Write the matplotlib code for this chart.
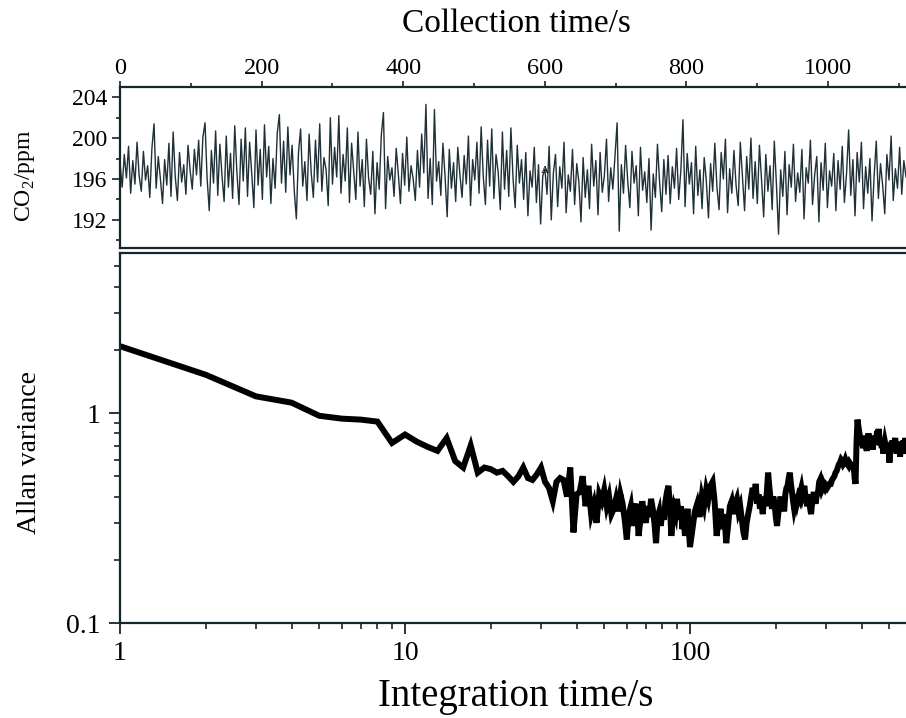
import numpy as np
import matplotlib.pyplot as plt
from matplotlib.ticker import MultipleLocator, FixedLocator, LogLocator, NullFormatter

plt.rcParams['font.family'] = ['Liberation Serif', 'DejaVu Serif']
plt.rcParams['mathtext.fontset'] = 'custom'
plt.rcParams['mathtext.rm'] = 'Liberation Serif'

# CO2 record, one reading every 3 s
sample_interval = 3
co2_ppm = [
    197.5, 195.2, 198.4, 196.1, 199.2, 194.6, 197.8, 195.5, 199.6, 196.3, 194.8, 198.7, 195.9, 197.3, 194.2, 199.0, 201.4, 195.1, 198.2, 196.0,
    193.6, 197.9, 195.4, 199.5, 194.3, 200.6, 196.2, 193.9, 198.6, 195.7, 197.4, 194.5, 199.3, 196.8, 195.0, 198.9, 196.4, 199.8, 195.3, 200.1,
    201.5, 196.0, 192.9, 198.8, 195.6, 200.7, 194.4, 199.4, 196.3, 193.8, 200.2, 195.2, 198.5, 194.1, 201.2, 196.7, 193.5, 199.9, 195.8, 201.0,
    194.3, 199.6, 196.5, 193.2, 200.8, 195.4, 198.9, 194.0, 201.3, 196.2, 199.2, 193.6, 198.0, 195.1, 200.5, 202.3, 195.6, 199.7, 194.7, 201.1,
    196.4, 199.3, 194.9, 192.1, 198.6, 200.9, 195.3, 197.7, 193.9, 200.4, 196.6, 194.2, 199.8, 195.7, 201.4, 194.8, 198.1, 196.9, 193.4, 202.0,
    195.5, 199.1, 196.2, 202.2, 194.6, 198.4, 195.8, 201.0, 193.7, 199.5, 196.8, 194.0, 200.6, 195.3, 197.9, 193.3, 199.9, 196.1, 194.5, 198.7,
    192.6, 197.6, 195.0, 200.3, 202.5, 193.1, 198.2, 195.9, 197.1, 194.3, 199.0, 196.5, 193.6, 198.5, 195.4, 200.1, 194.8, 197.3, 196.0, 193.9,
    198.8, 195.2, 200.4, 196.6, 203.3, 194.1, 198.0, 193.5, 202.8, 195.8, 197.7, 194.4, 199.5, 196.3, 192.3, 198.9, 195.1, 197.6, 193.8, 199.1,
    196.4, 194.2, 198.3, 195.5, 200.2, 193.4, 197.9, 195.9, 199.6, 194.6, 201.1, 196.2, 193.5, 199.8, 195.3, 200.9, 194.1, 198.4, 196.7, 193.0,
    200.6, 195.0, 198.8, 194.3, 201.0, 196.1, 193.2, 199.3, 195.6, 197.9, 194.0, 198.6, 192.4, 196.8, 195.2, 199.1, 193.7, 197.4, 191.6, 196.3,
    197.0, 194.5, 199.2, 192.0, 196.6, 198.4, 193.3, 197.2, 195.1, 199.6, 192.7, 196.4, 194.8, 198.9, 193.5, 197.5, 195.7, 191.8, 198.1, 194.2,
    196.9, 193.1, 199.4, 195.3, 197.8, 192.5, 198.6, 194.7, 196.3, 199.9, 193.8, 197.1, 195.0, 198.2, 201.5, 190.9, 197.4, 194.6, 199.3, 195.8,
    193.2, 198.7, 195.6, 197.3, 192.4, 199.1, 194.9, 196.7, 193.7, 198.0, 191.0, 196.5, 194.2, 199.4, 195.7, 192.8, 197.9, 194.5, 198.3, 193.6,
    197.2, 195.1, 199.0, 194.0, 196.8, 201.8, 193.3, 198.5, 195.5, 197.6, 192.6, 199.2, 194.4, 196.9, 193.1, 198.1, 195.8, 192.2, 197.5, 194.8,
    199.5, 195.2, 193.0, 198.6, 196.0, 199.9, 192.7, 197.0, 194.6, 198.8, 195.4, 193.4, 199.6, 196.3, 192.9, 198.2, 195.0, 200.0, 194.1, 197.7,
    193.6, 199.3, 195.9, 192.3, 198.4, 194.8, 197.3, 193.0, 199.7, 195.5, 190.6, 196.9, 194.3, 198.7, 192.5, 197.4, 195.2, 199.4, 193.8, 196.6,
    194.7, 198.9, 192.1, 197.1, 195.6, 199.8, 193.5, 196.4, 198.2, 191.8, 197.6, 194.9, 199.5, 193.2, 196.8, 195.3, 198.5, 192.9, 197.8, 195.0,
    199.2, 193.7, 196.5, 200.8, 194.4, 197.9, 192.4, 198.6, 195.7, 199.6, 193.1, 197.2, 194.6, 198.0, 191.9, 196.3, 199.7, 194.1, 197.5, 195.4,
    192.6, 198.4, 195.9, 200.2, 193.9, 197.0, 195.1, 199.1, 194.5, 197.8, 196.2,
]
collection_time = np.arange(len(co2_ppm)) * sample_interval

# Allan variance vs integration time (s)
integration_time = np.concatenate([np.arange(1, 101), np.arange(102, 301, 2), np.arange(303, 580, 3)])
allan_var = [
    # 1..40
    2.08, 1.52, 1.20, 1.12, 0.97, 0.94, 0.93, 0.91, 0.72, 0.79,
    0.73, 0.69, 0.66, 0.76, 0.59, 0.55, 0.70, 0.52, 0.55, 0.54,
    0.52, 0.53, 0.50, 0.47, 0.50, 0.55, 0.49, 0.48, 0.51, 0.55,
    0.47, 0.44, 0.38, 0.47, 0.49, 0.48, 0.40, 0.55, 0.27, 0.41,
    # 41..100
    0.42, 0.50, 0.36, 0.45, 0.33, 0.37, 0.30, 0.41, 0.38, 0.43,
    0.36, 0.40, 0.33, 0.35, 0.39, 0.34, 0.41, 0.37, 0.31, 0.25,
    0.33, 0.36, 0.29, 0.34, 0.37, 0.26, 0.31, 0.38, 0.33, 0.30,
    0.36, 0.32, 0.39, 0.35, 0.30, 0.24, 0.32, 0.34, 0.29, 0.35,
    0.31, 0.38, 0.42, 0.45, 0.36, 0.26, 0.31, 0.35, 0.33, 0.39,
    0.34, 0.31, 0.36, 0.28, 0.32, 0.26, 0.30, 0.35, 0.28, 0.23,
    # 102..300 step 2
    0.28, 0.34, 0.37, 0.32, 0.40, 0.36, 0.43, 0.39, 0.45, 0.47,
    0.38, 0.26, 0.31, 0.35, 0.28, 0.33, 0.24, 0.29, 0.36, 0.38,
    0.33, 0.37, 0.39, 0.34, 0.36, 0.31, 0.27, 0.25, 0.30, 0.33,
    0.36, 0.40, 0.44, 0.39, 0.46, 0.37, 0.41, 0.35, 0.38, 0.33,
    0.40, 0.36, 0.42, 0.52, 0.44, 0.38, 0.35, 0.40, 0.37, 0.32,
    0.29, 0.33, 0.37, 0.40, 0.36, 0.39, 0.34, 0.41, 0.44, 0.45,
    0.49, 0.52, 0.46, 0.42, 0.38, 0.35, 0.37, 0.41, 0.38, 0.40,
    0.39, 0.42, 0.44, 0.41, 0.43, 0.45, 0.40, 0.38, 0.36, 0.39,
    0.41, 0.35, 0.33, 0.37, 0.40, 0.42, 0.39, 0.37, 0.40, 0.41,
    0.43, 0.47, 0.48, 0.45, 0.43, 0.44, 0.46, 0.45, 0.44, 0.45,
    # 303..579 step 3
    0.44, 0.45, 0.46, 0.46, 0.48, 0.49, 0.50, 0.52, 0.53, 0.55,
    0.57, 0.58, 0.60, 0.59, 0.57, 0.58, 0.60, 0.58, 0.57, 0.56,
    0.58, 0.57, 0.56, 0.55, 0.58, 0.49, 0.46, 0.72, 0.93, 0.86,
    0.80, 0.76, 0.70, 0.74, 0.68, 0.72, 0.78, 0.70, 0.66, 0.74,
    0.80, 0.72, 0.69, 0.76, 0.72, 0.67, 0.73, 0.78, 0.71, 0.74,
    0.82, 0.75, 0.84, 0.76, 0.70, 0.74, 0.68, 0.72, 0.64, 0.69,
    0.73, 0.70, 0.66, 0.72, 0.68, 0.71, 0.58, 0.67, 0.72, 0.69,
    0.74, 0.70, 0.66, 0.73, 0.76, 0.69, 0.64, 0.71, 0.67, 0.73,
    0.70, 0.62, 0.68, 0.72, 0.66, 0.70, 0.74, 0.64, 0.71, 0.76,
    0.72, 0.70, 0.73,
]

spine_col = '#14252c'

fig = plt.figure(figsize=(9.06, 7.18), dpi=100)
ax_top = fig.add_axes([0.1325, 0.6539, 0.8675, 0.2249])
ax_bot = fig.add_axes([0.1325, 0.1323, 0.8675, 0.5160])

# top panel: raw CO2
ax_top.plot(collection_time, co2_ppm, color='#1f3036', lw=1.0)
ax_top.text(600, 196.8, 'A', fontsize=8, ha='center', va='center')
ax_top.set_xlim(0, 1110)
ax_top.set_ylim(189.2, 205)
ax_top.xaxis.set_major_locator(MultipleLocator(200))
ax_top.xaxis.set_minor_locator(MultipleLocator(100))
ax_top.yaxis.set_major_locator(FixedLocator([192, 196, 200, 204]))
ax_top.yaxis.set_minor_locator(FixedLocator([190, 194, 198, 202]))
ax_top.tick_params(axis='x', which='both', top=True, bottom=False, labeltop=True, labelbottom=False)
ax_top.tick_params(axis='x', which='major', length=4, width=1.2, labelsize=17.5, pad=2, color=spine_col)
ax_top.tick_params(axis='x', which='minor', length=3, width=1.2, color=spine_col)
ax_top.tick_params(axis='y', which='major', length=6, width=1.2, labelsize=17, pad=3, color=spine_col)
ax_top.tick_params(axis='y', which='minor', length=3, width=1.2, color=spine_col)

# bottom panel: Allan variance
ax_bot.plot(integration_time, allan_var, color='black', lw=4.3, solid_joinstyle='miter')
ax_bot.set_xscale('log')
ax_bot.set_yscale('log')
ax_bot.set_xlim(1, 572.7)
ax_bot.set_ylim(0.1, 5.81)
ax_bot.xaxis.set_major_locator(FixedLocator([1, 10, 100]))
ax_bot.xaxis.set_ticklabels(['1', '10', '100'])
ax_bot.xaxis.set_minor_locator(LogLocator(base=10, subs=np.arange(2, 10)))
ax_bot.xaxis.set_minor_formatter(NullFormatter())
ax_bot.yaxis.set_major_locator(FixedLocator([0.1, 1]))
ax_bot.yaxis.set_ticklabels(['0.1', '1'])
ax_bot.yaxis.set_minor_locator(LogLocator(base=10, subs=np.arange(2, 10)))
ax_bot.yaxis.set_minor_formatter(NullFormatter())
ax_bot.tick_params(axis='both', which='major', length=8, width=1.3, labelsize=20, color=spine_col)
ax_bot.tick_params(axis='x', which='major', pad=5)
ax_bot.tick_params(axis='y', which='major', pad=6)
ax_bot.tick_params(axis='both', which='minor', length=4, width=1.2, color=spine_col)

for ax in (ax_top, ax_bot):
    ax.spines['right'].set_visible(False)
    for side in ('left', 'top', 'bottom'):
        ax.spines[side].set_color(spine_col)
        ax.spines[side].set_linewidth(1.6)

fig.text(0.5695, 0.967, 'Collection time/s', fontsize=24, ha='center', va='center')
fig.text(0.5695, 0.030, 'Integration time/s', fontsize=28, ha='center', va='center')
fig.text(0.028, 0.755, 'CO$_2$/ppm', fontsize=17, rotation=90, ha='center', va='center')
fig.text(0.033, 0.370, 'Allan variance', fontsize=20, rotation=90, ha='center', va='center')

fig.savefig('out.png', dpi=100)
